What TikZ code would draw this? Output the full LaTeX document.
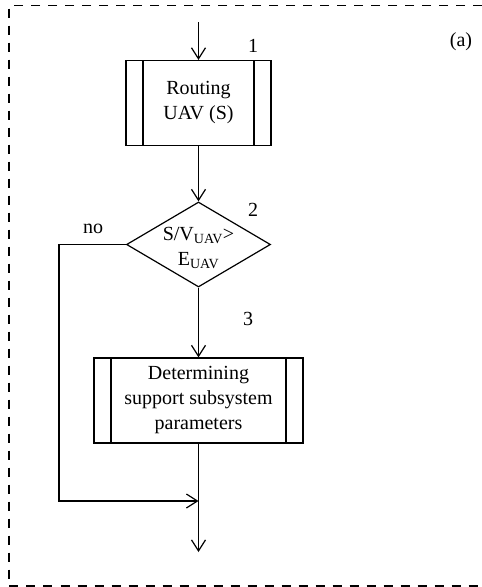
\documentclass[tikz,border=0pt]{standalone}
\usepackage{fontspec}
\setmainfont{Liberation Serif}
\usetikzlibrary{shapes.geometric, arrows.meta, positioning}

\tikzset{
  procbox/.style={draw, line width=1.2pt, minimum width=#1, minimum height=85pt,
    align=center, inner sep=0pt, font=\fontsize{20}{25}\selectfont,
    path picture={
      \draw[line width=1.2pt] ([xshift=17pt]path picture bounding box.north west) -- ([xshift=17pt]path picture bounding box.south west);
      \draw[line width=1.2pt] ([xshift=-17pt]path picture bounding box.north east) -- ([xshift=-17pt]path picture bounding box.south east);
    }},
  decision/.style={draw, diamond, line width=1.2pt, minimum width=144pt,
    minimum height=85pt, inner sep=0pt},
  flow/.style={line width=1.2pt, -{Straight Barb[length=11pt, width=14pt, line width=1.2pt]}},
  tag/.style={font=\fontsize{20}{25}\selectfont, inner sep=0pt}
}

\begin{document}
\begin{tikzpicture}[x=1pt, y=-1pt]
\useasboundingbox (0,0) rectangle (482,587);
\draw[line width=1.2pt, dash pattern=on 9pt off 8pt] (482,5.5) -- (9,5.5) -- (9,586) -- (482,586);

\node[procbox=145pt] (route) at (198.5,103) {Routing\\UAV (S)};
\node[decision] (check) at (198.5,244.5) {};
\node[tag, align=center] (checktxt) at (198.5,248) {S/V\textsubscript{UAV}>\\E\textsubscript{UAV}};
\node[procbox=209pt] (param) at (198.5,400.5) {Determining\\support subsystem\\parameters};

\coordinate (in) at (198.5,22);
\coordinate (detour) at (59,501);
\coordinate (join) at (198.5,501);
\coordinate (out) at (198.5,552);

\draw[flow] (in) -- (route.north);
\draw[flow] (route.south) -- (check.north);
\draw[flow] (check.south) -- (param.north);
\draw[line width=1.2pt] (param.south) -- (join);
\draw[flow] (join) -- (out);
\draw[flow] (check.west) -| (detour) -- (join);

\foreach \nm/\txt/\x/\y in {one/1/253/46, two/2/253/210, three/3/248/319, no/no/93/229, part/(a)/461/42}{
  \node[tag] (lbl\nm) at (\x,\y) {\txt};
}
\end{tikzpicture}
\end{document}
